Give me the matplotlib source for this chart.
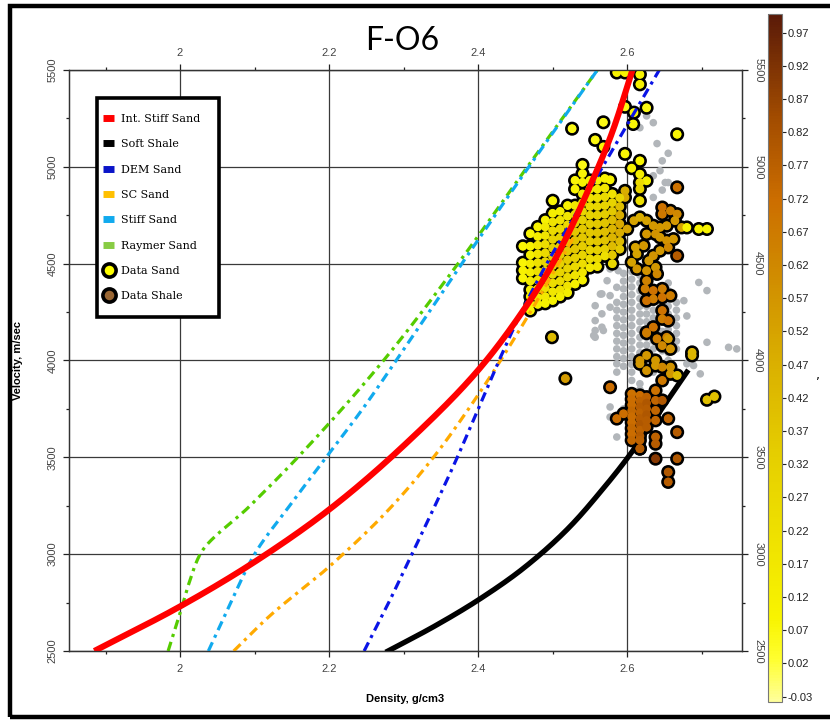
import numpy as np
import matplotlib
matplotlib.use("Agg")
import matplotlib.pyplot as plt
from matplotlib.colors import LinearSegmentedColormap, Normalize
from matplotlib.lines import Line2D
from matplotlib.patches import Rectangle
from matplotlib.cm import ScalarMappable

# ---- rock physics model curves (density g/cm3, velocity m/s) ----
int_stiff_rho = [1.885, 2.0, 2.1, 2.2, 2.3, 2.4, 2.45, 2.5, 2.55, 2.58, 2.607]
int_stiff_vel = [2500, 2730, 2960, 3230, 3560, 3950, 4200, 4500, 4900, 5180, 5500]

soft_shale_rho = [2.279, 2.34, 2.4, 2.46, 2.52, 2.568, 2.6, 2.64, 2.68]
soft_shale_vel = [2500, 2625, 2763, 2925, 3130, 3340, 3495, 3715, 3940]

dem_rho = [2.247, 2.28, 2.311, 2.342, 2.372, 2.40, 2.428, 2.458, 2.492, 2.53, 2.567, 2.605, 2.643]
dem_vel = [2500, 2750, 3000, 3250, 3500, 3750, 4000, 4250, 4500, 4750, 5000, 5250, 5500]

sc_rho = [2.072, 2.12, 2.2, 2.28, 2.34, 2.396, 2.43, 2.47, 2.53]
sc_vel = [2500, 2680, 2935, 3230, 3500, 3800, 4000, 4250, 4650]

stiff_rho = [2.038, 2.068, 2.1, 2.147, 2.196, 2.245, 2.29, 2.378, 2.468, 2.56]
stiff_vel = [2500, 2750, 3000, 3250, 3500, 3750, 4000, 4500, 5000, 5500]

raymer_rho = [1.984, 2.0, 2.012, 2.027, 2.094, 2.158, 2.273, 2.373, 2.466, 2.56]
raymer_vel = [2500, 2695, 2850, 3000, 3250, 3500, 4000, 4500, 5000, 5500]

# ---- well data: sand (dense columns + scattered points) ----
sand_col_rho = [2.46, 2.47, 2.48, 2.49, 2.50, 2.51, 2.52, 2.53, 2.54, 2.55, 2.56, 2.57, 2.58, 2.59]
sand_col_vel = [
    [4590, 4505, 4465, 4425],
    [4655, 4590, 4545, 4500, 4455, 4410, 4365, 4330, 4290, 4258],
    [4690, 4640, 4595, 4550, 4505, 4460, 4415, 4370, 4325, 4290],
    [4725, 4690, 4645, 4600, 4555, 4510, 4465, 4420, 4375, 4330, 4295],
    [4825, 4760, 4715, 4670, 4625, 4580, 4535, 4490, 4445, 4400, 4355, 4310],
    [4770, 4725, 4680, 4635, 4590, 4545, 4500, 4455, 4410, 4365, 4330],
    [4800, 4745, 4700, 4655, 4610, 4565, 4520, 4475, 4430, 4385, 4350],
    [4930, 4885, 4800, 4755, 4710, 4665, 4620, 4575, 4530, 4485, 4440, 4395],
    [5010, 4965, 4920, 4860, 4815, 4770, 4725, 4680, 4635, 4590, 4545, 4500, 4455, 4415],
    [4930, 4885, 4840, 4795, 4750, 4705, 4660, 4615, 4570, 4525, 4480],
    [4930, 4885, 4840, 4795, 4750, 4705, 4660, 4615, 4570, 4525, 4485],
    [4940, 4890, 4845, 4800, 4755, 4710, 4665, 4620, 4575, 4540],
    [4860, 4815, 4770, 4725, 4680, 4635, 4590, 4545, 4500],
    [4840, 4795, 4750, 4705, 4660, 4615, 4575],
]
sand_col_val = [
    [0.08, 0.08, 0.10, 0.08],
    [0.08, 0.10, 0.12, 0.14, 0.14, 0.14, 0.12, 0.12, 0.10, 0.08],
    [0.10, 0.14, 0.18, 0.20, 0.22, 0.22, 0.20, 0.18, 0.14, 0.10],
    [0.10, 0.16, 0.20, 0.24, 0.26, 0.28, 0.28, 0.26, 0.22, 0.16, 0.10],
    [0.08, 0.12, 0.20, 0.26, 0.30, 0.32, 0.32, 0.30, 0.28, 0.24, 0.18, 0.10],
    [0.12, 0.20, 0.26, 0.30, 0.34, 0.34, 0.32, 0.30, 0.26, 0.20, 0.12],
    [0.10, 0.18, 0.26, 0.32, 0.36, 0.36, 0.34, 0.30, 0.26, 0.20, 0.12],
    [0.08, 0.10, 0.18, 0.26, 0.32, 0.36, 0.38, 0.36, 0.32, 0.26, 0.20, 0.12],
    [0.06, 0.08, 0.10, 0.16, 0.22, 0.28, 0.32, 0.36, 0.36, 0.34, 0.30, 0.24, 0.18, 0.12],
    [0.10, 0.14, 0.20, 0.26, 0.30, 0.34, 0.36, 0.34, 0.30, 0.24, 0.16],
    [0.10, 0.16, 0.22, 0.28, 0.32, 0.36, 0.38, 0.36, 0.32, 0.26, 0.18],
    [0.10, 0.18, 0.26, 0.30, 0.34, 0.38, 0.40, 0.38, 0.32, 0.22],
    [0.20, 0.30, 0.36, 0.42, 0.45, 0.45, 0.42, 0.36, 0.28],
    [0.30, 0.40, 0.48, 0.50, 0.48, 0.42, 0.36],
]

sand_pt_rho = [2.526, 2.568, 2.557, 2.568, 2.597, 2.609, 2.608, 2.626, 2.667, 2.586,
               2.597, 2.617, 2.617, 2.597, 2.606, 2.617, 2.617, 2.626, 2.577, 2.680,
               2.696, 2.707, 2.617, 2.617, 2.617, 2.499]
sand_pt_vel = [5197, 5230, 5139, 5103, 5310, 5280, 5221, 5305, 5168, 5487,
               5487, 5477, 5426, 5067, 4993, 5031, 4962, 4928, 4933, 4687,
               4679, 4679, 4919, 4886, 4825, 4120]
sand_pt_val = [0.06, 0.06, 0.07, 0.08, 0.06, 0.07, 0.08, 0.06, 0.08, 0.10,
               0.10, 0.10, 0.12, 0.08, 0.10, 0.09, 0.12, 0.12, 0.10, 0.10,
               0.10, 0.10, 0.25, 0.30, 0.22, 0.42]

# ---- well data: shale ----
shale_col_rho = [2.606, 2.617, 2.626]
shale_col_vel = [
    [3828, 3800, 3770, 3740, 3710, 3680, 3650, 3620, 3588],
    [3820, 3790, 3760, 3730, 3700, 3670, 3640, 3610, 3588, 3545],
    [3811, 3780, 3750, 3720, 3690, 3656],
]
shale_col_val = [
    [0.70, 0.72, 0.72, 0.74, 0.72, 0.72, 0.74, 0.72, 0.74],
    [0.72, 0.76, 0.78, 0.76, 0.78, 0.80, 0.76, 0.78, 0.76, 0.78],
    [0.76, 0.80, 0.78, 0.80, 0.78, 0.78],
]

shale_pt_rho = [2.600, 2.609, 2.617, 2.626, 2.635, 2.644, 2.626, 2.638, 2.644, 2.653,
                2.655, 2.662, 2.673, 2.667, 2.644, 2.635, 2.622, 2.611, 2.613, 2.606,
                2.613, 2.626, 2.638, 2.629, 2.640, 2.626, 2.624, 2.635, 2.647, 2.647,
                2.658, 2.635, 2.626, 2.647, 2.647, 2.635, 2.626, 2.655, 2.640, 2.653,
                2.647, 2.647, 2.658, 2.667, 2.664, 2.653, 2.667, 2.597, 2.597,
                2.626, 2.647, 2.655, 2.658, 2.626, 2.617, 2.617, 2.626, 2.638, 2.638,
                2.647, 2.658, 2.658, 2.667, 2.647, 2.638, 2.577, 2.517, 2.687, 2.687,
                2.707, 2.717, 2.638, 2.638, 2.638, 2.647, 2.595, 2.586, 2.655, 2.667,
                2.638, 2.638, 2.617, 2.638, 2.667, 2.655, 2.655]
shale_pt_vel = [4679, 4722, 4739, 4722, 4696, 4687, 4653, 4653, 4636, 4619,
                4584, 4627, 4687, 4541, 4567, 4541, 4593, 4584, 4550, 4507,
                4473, 4464, 4481, 4515, 4447, 4412, 4370, 4361, 4370, 4326,
                4335, 4318, 4309, 4258, 4215, 4172, 4146, 4206, 4112, 4120,
                4790, 4756, 4773, 4756, 4722, 4696, 4894, 4876, 4842,
                4141, 4077, 4112, 4060, 4026, 4000, 3983, 3948, 4000, 3974,
                3966, 3966, 3931, 3923, 3897, 3845, 3862, 3907, 4042, 4026,
                3797, 3814, 3794, 3742, 3691, 3794, 3725, 3700, 3700, 3630,
                3605, 3570, 3545, 3493, 3493, 3424, 3373]
shale_pt_val = [0.52, 0.52, 0.48, 0.52, 0.56, 0.56, 0.56, 0.58, 0.56, 0.58,
                0.62, 0.56, 0.52, 0.78, 0.56, 0.58, 0.56, 0.52, 0.52, 0.52,
                0.56, 0.58, 0.56, 0.56, 0.62, 0.64, 0.66, 0.70, 0.66, 0.70,
                0.66, 0.66, 0.70, 0.70, 0.66, 0.70, 0.72, 0.70, 0.66, 0.64,
                0.70, 0.68, 0.64, 0.62, 0.56, 0.56, 0.70, 0.48, 0.50,
                0.66, 0.62, 0.56, 0.58, 0.56, 0.58, 0.56, 0.58, 0.56, 0.56,
                0.62, 0.58, 0.56, 0.42, 0.68, 0.70, 0.72, 0.55, 0.45, 0.45,
                0.40, 0.40, 0.75, 0.75, 0.75, 0.80, 0.72, 0.72, 0.76, 0.78,
                0.76, 0.78, 0.78, 0.90, 0.80, 0.80, 0.78]

# ---- grey (unclassified) samples ----
grey_col_rho = [2.586, 2.595, 2.606, 2.617, 2.626, 2.635, 2.647, 2.655, 2.666]
grey_col_vel = [
    [4300, 4260, 4220, 4180, 4140, 4100, 4060, 4020],
    [4450, 4410, 4370, 4330, 4290, 4250, 4210, 4170, 4130, 4090, 4050, 4010, 3970, 3750],
    [4500, 4460, 4420, 4380, 4340, 4300, 4260, 4220, 4180, 4140, 4100, 4060, 4020, 3980, 3940, 3897, 3650],
    [4440, 4400, 4360, 4320, 4280, 4240, 4200, 4160, 4120, 4080, 4040, 3880, 3850],
    [4400, 4360, 4320, 4280, 4240, 4200, 4160, 4120, 4080, 4040, 4000, 3960],
    [4954, 4842, 4300, 4260, 4220, 4180, 4140, 4100, 4060, 4020, 3980, 3940],
    [5031, 4880, 4300, 4250, 4200, 4150, 4100, 4050],
    [4919, 4400, 4360, 4320, 4280, 4240, 4200, 4160, 4120, 4080, 4040, 4000],
    [4300, 4260, 4220, 4180, 4140, 4100, 4060],
]
grey_pt_rho = [2.557, 2.557, 2.557, 2.557, 2.566, 2.566, 2.566, 2.577, 2.577, 2.577,
               2.577, 2.586, 2.586, 2.586, 2.586, 2.588, 2.573, 2.564, 2.680, 2.689,
               2.698, 2.696, 2.707, 2.676, 2.707, 2.736, 2.747, 2.626, 2.617, 2.635,
               2.651, 2.555, 2.568, 2.640, 2.655, 2.644, 2.680, 2.577]
grey_pt_vel = [4283, 4206, 4155, 4120, 4344, 4241, 4172, 4473, 4335, 4275,
               3708, 4378, 3983, 3940, 3605, 4464, 4412, 4343, 3983, 3974,
               3931, 4403, 4361, 4309, 4094, 4068, 4060, 5263, 5202, 5228,
               4919, 4129, 4155, 5120, 5070, 4980, 4230, 3760]

cbar_ticks = [-0.03, 0.02, 0.07, 0.12, 0.17, 0.22, 0.27, 0.32, 0.37, 0.42, 0.47,
              0.52, 0.57, 0.62, 0.67, 0.72, 0.77, 0.82, 0.87, 0.92, 0.97]


def flatten(col_rho, col_vel, col_val=None):
    rho, vel, val = [], [], []
    for i, (r, vs) in enumerate(zip(col_rho, col_vel)):
        rho += [r] * len(vs)
        vel += list(vs)
        if col_val is not None:
            val += list(col_val[i])
    return rho, vel, val


def smooth(rho, vel, n=400):
    """Monotone cubic (PCHIP) of density against velocity, for drawing only."""
    x = np.asarray(vel, float)
    y = np.asarray(rho, float)
    h = np.diff(x)
    d = np.diff(y) / h
    m = np.zeros_like(x)
    m[0], m[-1] = d[0], d[-1]
    for k in range(1, len(x) - 1):
        if d[k - 1] * d[k] > 0:
            w1 = 2 * h[k] + h[k - 1]
            w2 = h[k] + 2 * h[k - 1]
            m[k] = (w1 + w2) / (w1 / d[k - 1] + w2 / d[k])
    xs = np.linspace(x[0], x[-1], n)
    k = np.clip(np.searchsorted(x, xs) - 1, 0, len(x) - 2)
    t = (xs - x[k]) / h[k]
    h00 = 2 * t ** 3 - 3 * t ** 2 + 1
    h10 = t ** 3 - 2 * t ** 2 + t
    h01 = -2 * t ** 3 + 3 * t ** 2
    h11 = t ** 3 - t ** 2
    ys = h00 * y[k] + h10 * h[k] * m[k] + h01 * y[k + 1] + h11 * h[k] * m[k + 1]
    return ys, xs


cmap = LinearSegmentedColormap.from_list("sandshale", [
    (0.00, "#ffff9a"), (0.06, "#ffff30"), (0.12, "#f8f400"), (0.35, "#e6d000"),
    (0.50, "#d9ae00"), (0.62, "#d08c00"), (0.73, "#cc6e00"), (0.85, "#a24c00"),
    (1.00, "#5a1a08")])
norm = Normalize(vmin=-0.038, vmax=0.998)

fig = plt.figure(figsize=(8.3, 7.2), dpi=100)
ax = fig.add_axes([69 / 830, 1 - 651 / 720, 673 / 830, 581 / 720])

# grey samples below everything
g_rho, g_vel, _ = flatten(grey_col_rho, grey_col_vel)
ax.scatter(g_rho + grey_pt_rho, g_vel + grey_pt_vel, s=30, color="#b2b6ba",
           edgecolors="none", zorder=2)

ax.plot(*smooth(soft_shale_rho, soft_shale_vel), color="black", lw=3.8, zorder=3)

s_rho, s_vel, s_val = flatten(sand_col_rho, sand_col_vel, sand_col_val)
sh_rho, sh_vel, sh_val = flatten(shale_col_rho, shale_col_vel, shale_col_val)
all_rho = sh_rho + shale_pt_rho + s_rho + sand_pt_rho
all_vel = sh_vel + shale_pt_vel + s_vel + sand_pt_vel
all_val = sh_val + shale_pt_val + s_val + sand_pt_val
# black rings first, then the faces on top so packed clusters keep only an outline
ax.scatter(all_rho, all_vel, c=all_val, cmap=cmap, norm=norm, s=64,
           edgecolors="black", linewidths=2.1, zorder=4)
ax.scatter(all_rho, all_vel, c=all_val, cmap=cmap, norm=norm, s=40,
           edgecolors="none", zorder=4.5)

dashdot = (0, (3, 1.6, 1, 1.6))
ax.plot(*smooth(raymer_rho, raymer_vel), color="#55cc00", lw=2.3, ls=dashdot, zorder=5)
ax.plot(*smooth(stiff_rho, stiff_vel), color="#11aaee", lw=2.3, ls=dashdot, zorder=5)
ax.plot(*smooth(sc_rho, sc_vel), color="#ffaa00", lw=2.3, ls=dashdot, zorder=5)
ax.plot(*smooth(dem_rho, dem_vel), color="#0a14e6", lw=2.3, ls=dashdot, zorder=5)
ax.plot(*smooth(int_stiff_rho, int_stiff_vel), color="#ff0000", lw=4.4, zorder=6,
        solid_capstyle="butt")

ax.set_xlim(1.851, 2.754)
ax.set_ylim(2500, 5495)
ax.set_xticks([2.0, 2.2, 2.4, 2.6])
ax.set_xticklabels(["2", "2.2", "2.4", "2.6"])
ax.set_xticks([1.9, 2.1, 2.3, 2.5, 2.7], minor=True)
ax.set_yticks([2500, 3000, 3500, 4000, 4500, 5000, 5500])
ax.set_yticks([2750, 3250, 3750, 4250, 4750, 5250], minor=True)
ax.grid(True, which="major", color="#3a3a3a", lw=0.9, zorder=1)

ax.tick_params(which="both", direction="out", colors="#222222", labelcolor="#444444",
               top=True, labeltop=True, labelsize=8, width=0.9)
ax.tick_params(which="major", length=4)
ax.tick_params(which="minor", length=2)
ax.tick_params(axis="x", pad=5)
ax.tick_params(axis="y", labelrotation=90, pad=4)
for lab in ax.get_xticklabels() + ax.get_yticklabels():
    lab.set_family("Liberation Sans")
for lab in ax.get_yticklabels():
    lab.set_va("center")

axr = ax.twinx()
axr.set_ylim(ax.get_ylim())
axr.set_yticks([2500, 3000, 3500, 4000, 4500, 5000, 5500])
axr.set_yticks([2750, 3250, 3750, 4250, 4750, 5250], minor=True)
axr.tick_params(which="both", direction="out", colors="#222222", labelcolor="#444444",
                labelsize=8, width=0.9, labelrotation=-90, pad=4)
axr.tick_params(which="major", length=4)
axr.tick_params(which="minor", length=2)
for lab in axr.get_yticklabels():
    lab.set_family("Liberation Sans")
    lab.set_va("center")

for sp in list(ax.spines.values()) + list(axr.spines.values()):
    sp.set_linewidth(0.9)
    sp.set_color("#333333")

# legend: white box drawn by hand, entries from matplotlib's legend
axr.add_patch(Rectangle((97 / 830, 1 - 317 / 720), 122 / 830, 219 / 720,
                        transform=fig.transFigure, facecolor="white",
                        edgecolor="black", lw=2.6, zorder=9, clip_on=False))
handles = [
    Line2D([], [], color="#ff0000", lw=5, solid_capstyle="butt"),
    Line2D([], [], color="black", lw=5, solid_capstyle="butt"),
    Line2D([], [], color="#0a14c8", lw=5, solid_capstyle="butt"),
    Line2D([], [], color="#ffc000", lw=5, solid_capstyle="butt"),
    Line2D([], [], color="#11aaee", lw=5, solid_capstyle="butt"),
    Line2D([], [], color="#88cc44", lw=5, solid_capstyle="butt"),
    Line2D([], [], marker="o", ls="none", markersize=9.5, markerfacecolor="#ffff00",
           markeredgecolor="black", markeredgewidth=2.6),
    Line2D([], [], marker="o", ls="none", markersize=9.5, markerfacecolor="#996633",
           markeredgecolor="black", markeredgewidth=2.6),
]
labels = ["Int. Stiff Sand", "Soft Shale", "DEM Sand", "SC Sand", "Stiff Sand",
          "Raymer Sand", "Data Sand", "Data Shale"]
leg = axr.legend(handles, labels, loc="upper left",
                 bbox_to_anchor=(103 / 830, 1 - 114 / 720),
                 bbox_transform=fig.transFigure, borderaxespad=0, borderpad=0,
                 frameon=False, prop={"family": "DejaVu Serif", "size": 8},
                 handlelength=1.0, handletextpad=0.6, labelspacing=1.38)
leg.set_zorder(10)

# colorbar
cax = fig.add_axes([768 / 830, 1 - 702 / 720, 14 / 830, 688 / 720])
cb = fig.colorbar(ScalarMappable(norm=norm, cmap=cmap), cax=cax, ticks=cbar_ticks)
cb.ax.set_yticklabels([f"{t:.2f}" for t in cbar_ticks])
cb.ax.tick_params(labelsize=8, length=3, width=0.8, colors="#222222", pad=1)
for lab in cb.ax.get_yticklabels():
    lab.set_family("Liberation Sans")
cb.outline.set_edgecolor("#777777")
cb.outline.set_linewidth(0.8)

fig.text(402 / 830, 1 - 41 / 720, "F-O6", fontsize=23, family="Lato",
         ha="center", va="center")
fig.text(18 / 830, 1 - 360 / 720, "Velocity, m/sec", rotation=90, fontsize=8,
         fontweight="bold", family="Liberation Sans", ha="center", va="center")
fig.text(405 / 830, 1 - 699 / 720, "Density, g/cm3", fontsize=8, fontweight="bold",
         family="Liberation Sans", ha="center", va="center")
fig.text(818 / 830, 1 - 375 / 720, ",", fontsize=9, ha="center", va="center")

# outer frame of the screenshot
fig.add_artist(Rectangle((10 / 830, 3 / 720), 1.0, 1 - 9 / 720, fill=False,
                         lw=3.2, edgecolor="black", transform=fig.transFigure,
                         clip_on=False))

fig.savefig("out.png", dpi=100)
